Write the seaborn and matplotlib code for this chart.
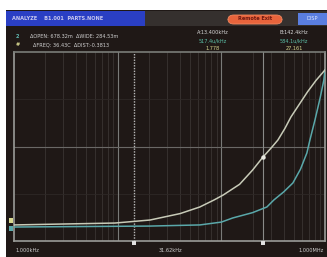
import numpy as np
import pandas as pd
import matplotlib
matplotlib.use('Agg')
import matplotlib.pyplot as plt
import seaborn as sns
from matplotlib.patches import Rectangle, FancyBboxPatch

# curve readings (frequency in kHz, level in screen fraction)
freq_a = [1, 9.4, 20.5, 40, 62, 85, 104, 150, 200, 252, 300, 351, 410, 469, 560, 680, 820, 1000]
level_a = [0.085, 0.095, 0.111, 0.145, 0.180, 0.217, 0.243, 0.300, 0.375, 0.444, 0.490, 0.534, 0.595, 0.656, 0.720, 0.790, 0.850, 0.905]

freq_b = [1, 20.5, 62, 100, 129, 200, 275, 321, 400, 490, 580, 669, 715, 800, 900, 975, 1000]
level_b = [0.074, 0.079, 0.085, 0.100, 0.122, 0.150, 0.180, 0.217, 0.260, 0.307, 0.380, 0.466, 0.534, 0.640, 0.760, 0.852, 0.905]

cursor_a = 14.3
cursor_b = 252
x_labels = ['1.000kHz', '31.62kHz', '1.000MHz']

W, H = 327, 257
fig = plt.figure(figsize=(W / 100, H / 100), dpi=100, facecolor='white')

def fx(px):
    return px / W

def fy(py):
    return 1 - py / H

bg = '#1f1816'
fig.patches.append(Rectangle((fx(6), 0), fx(321), fy(10), transform=fig.transFigure,
                             facecolor=bg, edgecolor='none', zorder=-5))
# title bar
fig.patches.append(Rectangle((fx(6), fy(26)), fx(139), 15 / H, transform=fig.transFigure,
                             facecolor='#2a3fc4', edgecolor='none', zorder=1))
fig.patches.append(Rectangle((fx(145), fy(26)), fx(182), 15 / H, transform=fig.transFigure,
                             facecolor='#35302e', edgecolor='none', zorder=1))
fig.patches.append(FancyBboxPatch((fx(228), fy(24)), fx(54), 9 / H, transform=fig.transFigure,
                                  boxstyle='round,pad=0,rounding_size=0.018',
                                  facecolor='#e8643c', edgecolor='#f08860', lw=0.6, zorder=2))
fig.patches.append(Rectangle((fx(298), fy(25)), fx(29), 12 / H, transform=fig.transFigure,
                             facecolor='#5a7ee0', edgecolor='none', zorder=2))
fs = 3.6
fig.text(fx(12), fy(18.5), 'ANALYZE    B1.001  PARTS.NONE', color='#c8c8f0', fontsize=fs,
         va='center', fontweight='bold')
fig.text(fx(255), fy(18.5), 'Remote Exit', color='#701810', fontsize=fs, va='center',
         ha='center', fontweight='bold')
fig.text(fx(312), fy(19), 'DISP', color='#dde6ff', fontsize=fs, va='center', ha='center')

# header rows
fig.text(fx(16), fy(37), '2', color='#60b8b0', fontsize=fs, va='center', fontweight='bold')
fig.text(fx(16), fy(45), '#', color='#d8d890', fontsize=fs, va='center', fontweight='bold')
fig.text(fx(30), fy(37), 'ΔOPEN: 678.32m  ΔWIDE: 284.53m', color='#d0d0d0', fontsize=fs, va='center')
fig.text(fx(33), fy(45), 'ΔFREQ: 36.43C  ΔDIST:-0.3813', color='#d0d0d0', fontsize=fs, va='center')
fig.text(fx(213), fy(33), 'A:13.400kHz', color='#d8d8d8', fontsize=fs, va='center', ha='center')
fig.text(fx(213), fy(41), '517.4u/kHz', color='#5cc0a8', fontsize=fs, va='center', ha='center')
fig.text(fx(213), fy(48), '1.778', color='#d8d890', fontsize=fs, va='center', ha='center')
fig.text(fx(294), fy(33), 'B:142.4kHz', color='#d8d8d8', fontsize=fs, va='center', ha='center')
fig.text(fx(294), fy(41), '584.1u/kHz', color='#5cc0a8', fontsize=fs, va='center', ha='center')
fig.text(fx(294), fy(48), '27.161', color='#d8d890', fontsize=fs, va='center', ha='center')

# plot area
ax = fig.add_axes([fx(14), fy(241), fx(311), 189 / H])
ax.set_zorder(3)
ax.set_facecolor(bg)
ax.set_xscale('log')
ax.set_xlim(1, 1000)
ax.set_ylim(0, 1)

for d in [10, 100]:
    ax.axvline(d, color='#7a7a78', lw=0.8, zorder=1)
for d in [1, 10, 100]:
    for m in range(2, 10):
        ax.axvline(d * m, color='#3a3432', lw=0.6, zorder=0)
ax.axhline(0.5, color='#6a6866', lw=0.8, zorder=1)
ax.axhline(0.25, color='#2e2826', lw=0.6, zorder=0)
ax.axhline(0.75, color='#2e2826', lw=0.6, zorder=0)
ax.axvline(cursor_a, color='#b8b8b8', lw=1.0, ls=(0, (1, 1)), zorder=2)
ax.axvline(cursor_b, color='#8a8a88', lw=0.8, zorder=2)

df_a = pd.DataFrame({'f': freq_a, 'v': level_a})
df_b = pd.DataFrame({'f': freq_b, 'v': level_b})
sns.lineplot(data=df_b, x='f', y='v', ax=ax, color='#5aa8aa', lw=1.1, zorder=3)
sns.lineplot(data=df_a, x='f', y='v', ax=ax, color='#c8cbb8', lw=1.1, zorder=4)
ax.plot([cursor_b], [np.interp(cursor_b, freq_a, level_a)], 'o', color='#e8e8e0', ms=2.2, zorder=5)

for s in ax.spines.values():
    s.set_color('#9a9c98')
    s.set_linewidth(1.2)
ax.spines['top'].set_color('#7a7c78')
ax.set_xticks([])
ax.set_yticks([])
ax.minorticks_off()
ax.set_xlabel('')
ax.set_ylabel('')

# reference markers on the left edge
fig.patches.append(Rectangle((fx(9), fy(223)), fx(4), 5 / H, transform=fig.transFigure,
                             facecolor='#d8d890', edgecolor='none', zorder=5))
fig.patches.append(Rectangle((fx(9), fy(231)), fx(4), 5 / H, transform=fig.transFigure,
                             facecolor='#5aa8aa', edgecolor='none', zorder=5))
# cursor markers at the bottom
for px in [134, 263]:
    fig.patches.append(Rectangle((fx(px - 2), fy(245)), fx(4), 4 / H, transform=fig.transFigure,
                                 facecolor='#e0e0e0', edgecolor='none', zorder=5))

fig.text(fx(16), fy(250), x_labels[0], color='#d0d0d0', fontsize=fs, va='center')
fig.text(fx(170), fy(250), x_labels[1], color='#d0d0d0', fontsize=fs, va='center', ha='center')
fig.text(fx(324), fy(250), x_labels[2], color='#d0d0d0', fontsize=fs, va='center', ha='right')

fig.savefig('out.png', dpi=100, facecolor='white')
